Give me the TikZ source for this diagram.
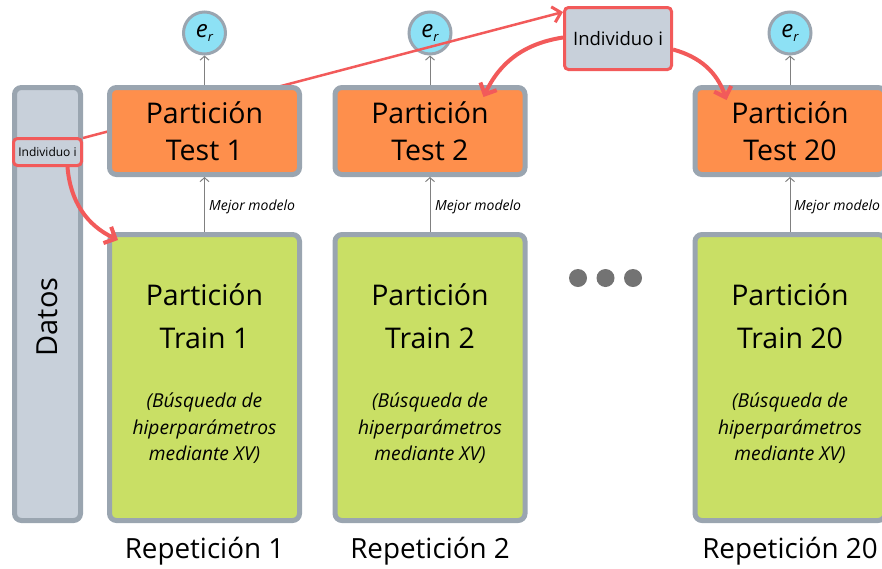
\documentclass[tikz,border=0pt]{standalone}
\usepackage{fontspec}
\setmainfont{Open Sans}
\usetikzlibrary{arrows.meta,calc}
\definecolor{bordergrey}{HTML}{9AA5B0}
\definecolor{orangefill}{HTML}{FE8F4C}
\definecolor{greenfill}{HTML}{C9DF65}
\definecolor{datosfill}{HTML}{C8D0DA}
\definecolor{bluefill}{HTML}{8DE1F5}
\definecolor{redc}{HTML}{F25A5A}
\definecolor{arrowgrey}{HTML}{808080}
\definecolor{dotgrey}{HTML}{737373}
\begin{document}
\begin{tikzpicture}[x=1pt,y=-1pt,
  box/.style={draw=bordergrey, line width=5pt, rounded corners=7pt, inner sep=0pt},
  testbox/.style={box, fill=orangefill, minimum width=190pt, minimum height=87pt,
    align=center, font=\fontsize{28.5}{37}\selectfont},
  trainbox/.style={box, fill=greenfill, minimum width=190pt, minimum height=286pt},
  traintitle/.style={align=center, inner sep=0pt, font=\fontsize{28.5}{43}\selectfont},
  trainsub/.style={align=center, inner sep=0pt, font=\fontsize{19.2}{26.5}\selectfont\itshape},
  reptext/.style={anchor=base, inner sep=0pt, font=\fontsize{27.8}{30}\selectfont},
  ercirc/.style={circle, draw=bordergrey, line width=3pt, fill=bluefill, minimum size=42pt,
    inner sep=0pt, font=\fontsize{24}{26}\selectfont\itshape},
  indbox/.style={draw=redc, line width=3pt, fill=datosfill, rounded corners=4pt, inner sep=0pt},
  mejor/.style={anchor=base west, inner sep=0pt, font=\fontsize{14}{16}\selectfont\itshape},
  greyarrow/.style={draw=arrowgrey, line width=1pt, -{Straight Barb[length=4pt,width=9pt]}},
  redline/.style={draw=redc, line width=2.5pt, -{Straight Barb[length=8pt,width=16pt,line width=3pt]}},
  redcurve/.style={draw=redc, line width=4pt, -{Straight Barb[length=9pt,width=18pt,line width=4pt]}},
  dotnode/.style={circle, fill=dotgrey, minimum size=18pt, inner sep=0pt}
]
\useasboundingbox (0,0) rectangle (882,568);
\newcommand{\erlabel}{e\raisebox{-0.35ex}{\fontsize{13}{15}\selectfont r}}

% Datos bar
\node[box, fill=datosfill, minimum width=66pt, minimum height=433pt] (datos) at (47.5,304) {};
\node[rotate=90, inner sep=0pt, font=\fontsize{29}{32}\selectfont] (datostxt) at (47.5,317) {Datos};
\node[indbox, minimum width=68pt, minimum height=27pt, font=\fontsize{12}{13}\selectfont] (smallind) at (47.5,152) {Individuo i};

% e_r circles
\node[ercirc] (er1) at (204.5,33) {\erlabel};
\node[ercirc] (er2) at (430,33) {\erlabel};
\node[ercirc] (er20) at (790,33) {\erlabel};

% top Individuo i
\node[indbox, minimum width=107pt, minimum height=62pt, font=\fontsize{18.5}{20}\selectfont] (topind) at (618,38.5) {Individuo i};

% red straight line
\draw[redline] ([yshift=-1pt]smallind.north east) -- ([yshift=-6pt]topind.north west);

% test boxes
\node[testbox] (test1) at (204.5,131) {Partición\\Test 1};
\node[testbox] (test2) at (430,131) {Partición\\Test 2};
\node[testbox] (test20) at (790,131) {Partición\\Test 20};

% train boxes
\node[trainbox] (train1) at (204.5,377.5) {};
\node[trainbox] (train2) at (430,377.5) {};
\node[trainbox] (train20) at (790,377.5) {};

\node[traintitle] (tt1) at (204.5,316) {Partición\\Train 1};
\node[traintitle] (tt2) at (430,316) {Partición\\Train 2};
\node[traintitle] (tt20) at (790,316) {Partición\\Train 20};

\node[trainsub] (ts1) at (204.5,428.5) {(Búsqueda de\\hiperparámetros\\mediante XV)};
\node[trainsub] (ts2) at (430,428.5) {(Búsqueda de\\hiperparámetros\\mediante XV)};
\node[trainsub] (ts20) at (790,428.5) {(Búsqueda de\\hiperparámetros\\mediante XV)};

% repetition labels
\node[reptext] (rep1) at (204.5,558) {Repetición 1};
\node[reptext] (rep2) at (430,558) {Repetición 2};
\node[reptext] (rep20) at (790,558) {Repetición 20};

% dots
\node[dotnode] (dot1) at (578,278) {};
\node[dotnode] (dot2) at (605.5,278) {};
\node[dotnode] (dot3) at (633,278) {};

% grey arrows
\draw[greyarrow] (test1.north) -- (er1.south);
\draw[greyarrow] (test2.north) -- (er2.south);
\draw[greyarrow] (test20.north) -- (er20.south);
\draw[greyarrow] (train1.north) -- (test1.south);
\draw[greyarrow] (train2.north) -- (test2.south);
\draw[greyarrow] (train20.north) -- (test20.south);

\node[mejor] (mm1) at (209,210) {Mejor modelo};
\node[mejor] (mm2) at (435,210) {Mejor modelo};
\node[mejor] (mm20) at (794,210) {Mejor modelo};

% red curved arrows
\coordinate (t2end) at ($(test2.north east)+(-44,12)$);
\coordinate (t20end) at ($(test20.north west)+(34,15)$);
\coordinate (tr1end) at ($(train1.north west)+(11,8)$);
\draw[redcurve] ([yshift=1pt]topind.west) to[bend right=28] (t2end);
\draw[redcurve] ([yshift=-11pt]topind.east) to[bend left=28] (t20end);
\draw[redcurve] ([xshift=20pt]smallind.south) to[bend right=30] (tr1end);
\end{tikzpicture}
\end{document}
